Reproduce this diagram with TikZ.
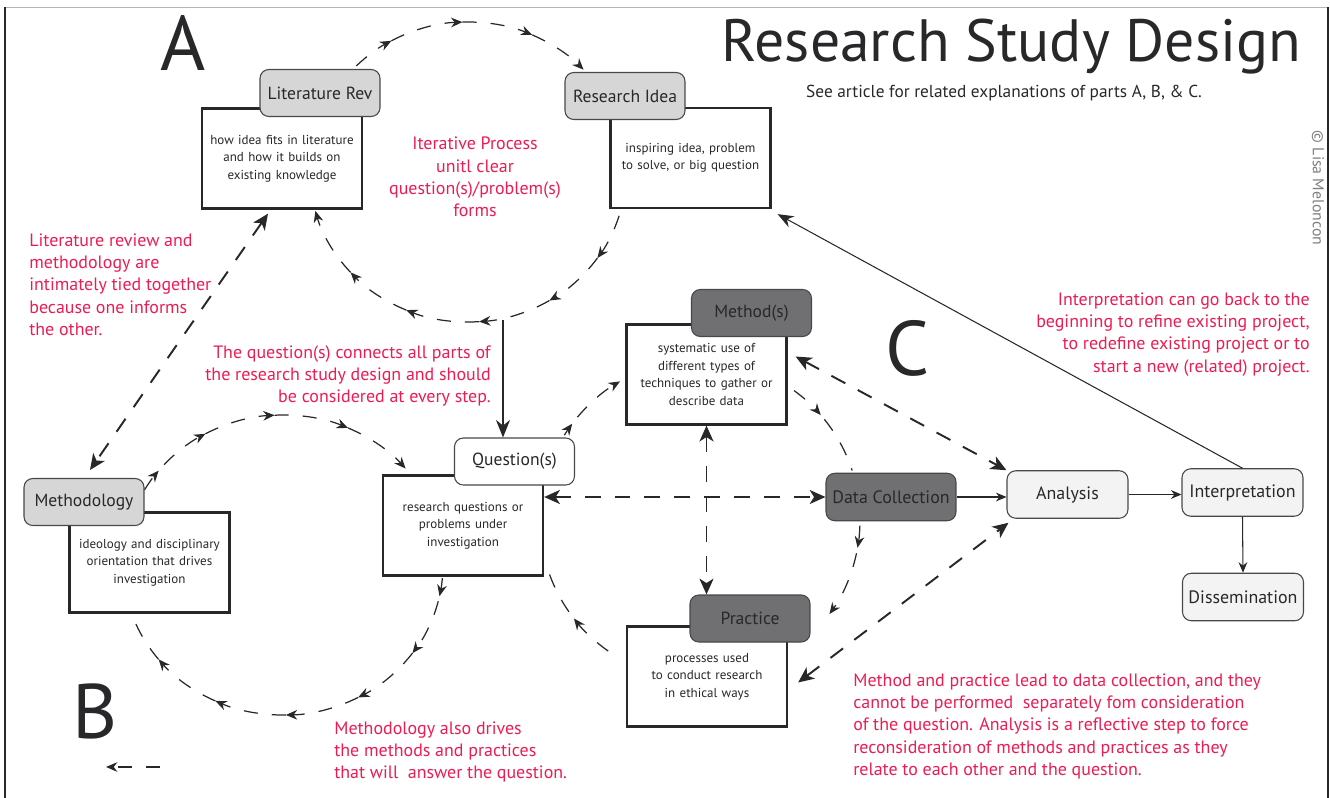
\documentclass[tikz,border=0pt]{standalone}
\usepackage{fontspec}
\setmainfont{PT Sans}
\usetikzlibrary{arrows.meta,calc}
\definecolor{notered}{RGB}{236,28,82}
\definecolor{ink}{RGB}{40,40,42}
\definecolor{tablight}{RGB}{214,214,214}
\definecolor{tabdark}{RGB}{112,112,114}
\definecolor{steplight}{RGB}{243,243,243}
\tikzset{
  body/.style={draw=ink, line width=1.3pt, fill=white, minimum width=3.2cm, minimum height=2cm,
    text width=3.15cm, inner sep=0.5pt, align=center, text=ink, font=\fontsize{7.4}{9.9}\selectfont},
  tab/.style={draw=ink!85, line width=0.6pt, rounded corners=5pt, minimum width=2.4cm,
    minimum height=0.94cm, text=ink, font=\fontsize{10}{11}\selectfont},
  stepbox/.style={draw=ink!85, line width=0.6pt, rounded corners=5pt, fill=steplight,
    minimum width=2.42cm, minimum height=0.95cm, text=ink, font=\fontsize{10.2}{11}\selectfont},
  note/.style={text=notered, inner sep=0pt, font=\fontsize{10.2}{12.75}\selectfont},
  partletter/.style={text=ink, anchor=base, font=\fontsize{44}{44}\selectfont},
  loopline/.style={draw=ink, line width=0.7pt, dash pattern=on 8pt off 8pt,
    -{Stealth[length=6.5pt,width=5.5pt]}},
  link/.style={draw=ink, line width=1.1pt, dash pattern=on 9pt off 8pt,
    {Stealth[length=9pt,width=8pt,inset=2.5pt]}-{Stealth[length=9pt,width=8pt,inset=2.5pt]}},
  flow/.style={draw=ink, line width=0.6pt, -{Stealth[length=6pt,width=5pt]}}
}
\begin{document}
\begin{tikzpicture}[x=0.02cm, y=-0.02cm]
\useasboundingbox (0,0) rectangle (1330,798);
% frame
\draw[ink!35, line width=0.5pt] (5,7) -- (1328,7);
\draw[ink, line width=0.8pt] (5,7) -- (5,798) (1328,7) -- (1328,798);

% headings
\node[text=ink, anchor=base, font=\fontsize{34}{34}\selectfont] (title) at (1011.5,61) {Research Study Design};
\node[text=ink, anchor=base west, font=\fontsize{9.85}{11}\selectfont] (see) at (800,97) {See article for related explanations of parts A, B, \& C.};
\node[text=ink!60, rotate=-90, font=\fontsize{9}{11}\selectfont] (copy) at (1318,188) {© Lisa Meloncon};
\node[partletter] (parta) at (183,70) {A};
\node[partletter] (partb) at (95,738) {B};
\node[partletter] (partc) at (908,375) {C};

% loops A, B and C
\coordinate (ca) at (468,172);
\coordinate (cb) at (283,565);
\coordinate (cc) at (700,520);
\foreach \a/\b in {225/241,241/268,268/294,294/317,17/35,35/59,59/86,86/113,113/138,138/165}
  \draw[loopline] ($(ca)+(\a:158 and 150)$) arc[start angle=\a, end angle=\b, x radius=158, y radius=150];
\foreach \a/\b in {210/219,222/241,241/267,267/294,294/320,5/12,14/36,36/62,62/89,89/115,115/141}
  \draw[loopline] ($(cb)+(\a:160 and 150)$) arc[start angle=\a, end angle=\b, x radius=160, y radius=150];
\draw[loopline, -] ($(cb)+(141:160 and 150)$) arc[start angle=141, end angle=163, x radius=160, y radius=150];
\foreach \a/\b in {212/217,220/240,306/319,2/10,12/36,125/142}
  \draw[loopline] ($(cc)+(\a:160)$) arc[start angle=\a, end angle=\b, radius=160];
\foreach \a/\b in {321/342,145/165}
  \draw[loopline, -] ($(cc)+(\a:160)$) arc[start angle=\a, end angle=\b, radius=160];
\coordinate (bstub) at (160,767);
\coordinate (bend) at (106,767);
\draw[loopline] (bstub) -- (bend);

% boxes
\node[body] (litbody) at (282,158.5) {how idea fits in literature\\and how it builds on\\existing knowledge};
\node[tab, fill=tablight] (littab) at (320,93) {Literature Rev};
\node[body] (ideabody) at (690.5,158) {inspiring idea, problem\\to solve, or big question};
\node[tab, fill=tablight] (ideatab) at (625,96) {Research Idea};
\node[body] (methbody) at (706.5,374.5) {systematic use of\\different types of\\techniques to gather or\\describe data};
\node[tab, fill=tabdark] (methtab) at (751.5,313) {Method(s)};
\node[body] (qbody) at (463,525.5) {research questions or\\problems under\\investigation};
\node[tab, fill=white] (qtab) at (514.5,461.5) {Question(s)};
\node[body] (mlbody) at (149.5,562.5) {ideology and disciplinary\\orientation that drives\\investigation};
\node[tab, fill=tablight] (mltab) at (84,502) {Methodology};
\node[body] (pbody) at (707,676.5) {processes used\\to conduct research\\in ethical ways};
\node[tab, fill=tabdark] (ptab) at (750,618.5) {Practice};
\node[stepbox, fill=tabdark, minimum width=2.6cm] (dcoll) at (891,497) {Data Collection};
\node[stepbox] (analysis) at (1067.5,494.5) {Analysis};
\node[stepbox] (interp) at (1242.5,492.5) {Interpretation};
\node[stepbox] (dissem) at (1243,597) {Dissemination};

% connectors
\coordinate (loopabase) at (503,320);
\draw[flow, -{Stealth[length=10pt,width=8pt]}] (loopabase) -- (loopabase |- qtab.north);
\draw[link] (qbody.east |- dcoll.west) -- (dcoll.west);
\draw[link] (methbody.south) -- (methbody.south |- ptab.north);
\draw[link] ([shift={(8,-18)}]methbody.east) -- (analysis.north west);
\draw[link] ([shift={(10,6)}]pbody.east) -- ([shift={(2,4)}]analysis.south west);
\draw[link] ([shift={(-14,4)}]litbody.south) -- ([shift={(6,-8)}]mltab.north);
\draw[flow] (dcoll.east) -- (dcoll.east -| analysis.west);
\draw[flow] (analysis.east) -- (analysis.east -| interp.west);
\draw[flow] (interp.south) -- (dissem.north);
\draw[flow, -{Stealth[length=9pt,width=7pt]}] (interp.north) -- ([shift={(6,5)}]ideabody.south east);

% notes
\node[note, align=center] (iternote) at (475,177) {Iterative Process\\unitl clear\\question(s)/problem(s)\\forms};
\node[note, align=left, anchor=north west] (litnote) at (29,233) {Literature review and\\methodology are\\intimately tied together\\because one informs\\the other.};
\node[note, align=right, anchor=north east] (qnote) at (491,345) {The question(s) connects all parts of\\the research study design and should\\be considered at every step.};
\node[note, align=right, anchor=north east] (interpnote) at (1310,292) {Interpretation can go back to the\\beginning to refine existing project,\\to redefine existing project or to\\start a new (related) project.};
\node[note, align=left, anchor=north west] (mlnote) at (334,721) {Methodology also drives\\the methods and practices\\that will\ \ answer the question.};
\node[note, align=left, anchor=north west] (mpnote) at (853,673) {Method and practice lead to data collection, and they\\cannot be performed\ \ separately fom consideration\\of the question. Analysis is a reflective step to force\\reconsideration of methods and practices as they\\relate to each other and the question.};
\end{tikzpicture}
\end{document}
